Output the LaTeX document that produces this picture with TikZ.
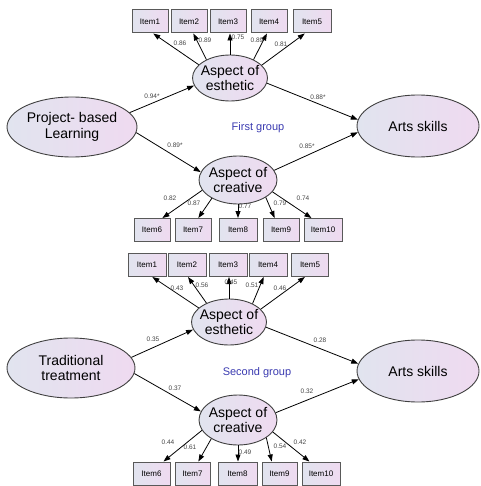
\documentclass[tikz,border=0pt]{standalone}
\usepackage{fontspec}
\setmainfont{Liberation Sans}
\usetikzlibrary{shapes.geometric,arrows.meta}
\definecolor{shadeleft}{HTML}{E1E4EF}
\definecolor{shaderight}{HTML}{EFDAF0}
\definecolor{grouptext}{HTML}{3A3AB0}
\definecolor{coeftext}{HTML}{444444}
\tikzset{
  latent/.style={ellipse, draw=black!75, line width=0.9pt, left color=shadeleft,
    right color=shaderight, inner xsep=-6pt, inner ysep=0pt, align=center,
    font=\fontsize{14}{15.5}\selectfont},
  item/.style={rectangle, draw=black!65, line width=1pt, left color=shadeleft,
    right color=shaderight, minimum width=36pt, minimum height=23pt, inner sep=0pt,
    font=\fontsize{8}{9}\selectfont},
  load/.style={-{Triangle[length=7pt,width=5pt]}, line width=0.8pt},
  coef/.style={font=\fontsize{6.5}{7}\selectfont, text=coeftext, inner sep=0pt},
  group/.style={font=\fontsize{11}{12}\selectfont, text=grouptext}
}
\begin{document}
\begin{tikzpicture}[x=1pt,y=-1pt]
    \useasboundingbox (0,0) rectangle (480,486);
    % First group: latent variables
    \node[latent, minimum width=130pt, minimum height=60pt] (pbl) at (72,127) {Project- based\\Learning};
    \node[latent, minimum width=75pt, minimum height=46pt] (est1) at (230,78) {Aspect of\\esthetic};
    \node[latent, minimum width=78pt, minimum height=48pt] (cre1) at (238,180) {Aspect of\\creative};
    \node[latent, minimum width=122pt, minimum height=62pt] (arts1) at (418,126) {Arts skills};
    \node[group] (g1) at (258,128) {First group};
    % First group: items
    \node[item] (a1) at (150,21.5) {Item1};
    \node[item] (a2) at (189,21.5) {Item2};
    \node[item] (a3) at (228,21.5) {Item3};
    \node[item] (a4) at (269,21.5) {Item4};
    \node[item, minimum width=38pt] (a5) at (312,21.5) {Item5};
    \node[item] (a6) at (152,230) {Item6};
    \node[item] (a7) at (193,230) {Item7};
    \node[item, minimum width=38pt] (a8) at (238,230) {Item8};
    \node[item] (a9) at (281,230) {Item9};
    \node[item, minimum width=38pt] (a10) at (323,230) {Item10};
    % First group: paths
    \draw[load] (pbl.14) -- (est1.192);
    \draw[load] (pbl.355) -- (cre1.168);
    \draw[load] (est1.352) -- (arts1.174);
    \draw[load] (cre1.15) -- (arts1.186);
    \draw[load] (est1.157) -- (a1.-75);
    \draw[load] (est1.142) -- (a2.-70);
    \draw[load] (est1.90) -- (est1.90 |- a3.south);
    \draw[load] (est1.38) -- (a4.-100);
    \draw[load] (est1.22) -- (a5.-121);
    \draw[load] (cre1.196) -- (a6.49);
    \draw[load] (cre1.215) -- (a7.66);
    \draw[load] (cre1.270) -- (cre1.270 |- a8.north);
    \draw[load] (cre1.328) -- (a9.118);
    \draw[load] (cre1.341) -- (a10.134);
    % First group: estimates
    \node[coef] at (180,43) {0.86};
    \node[coef] at (205,40) {0.89};
    \node[coef] at (238,37) {0.75};
    \node[coef] at (257,40) {0.89};
    \node[coef] at (281,44) {0.81};
    \node[coef] at (152,96) {0.94*};
    \node[coef] at (318,97) {0.88*};
    \node[coef] at (175,145) {0.89*};
    \node[coef] at (307,146) {0.85*};
    \node[coef] at (170,198) {0.82};
    \node[coef] at (194,203) {0.87};
    \node[coef] at (245,206) {0.77};
    \node[coef] at (280,203) {0.79};
    \node[coef] at (303,198) {0.74};
    % Second group: latent variables
    \node[latent, minimum width=128pt, minimum height=60pt] (trad) at (71,368) {Traditional\\treatment};
    \node[latent, minimum width=75pt, minimum height=46pt] (est2) at (229,322) {Aspect of\\esthetic};
    \node[latent, minimum width=78pt, minimum height=50pt] (cre2) at (238,420) {Aspect of\\creative};
    \node[latent, minimum width=122pt, minimum height=62pt] (arts2) at (418,371) {Arts skills};
    \node[group] (g2) at (257,373) {Second group};
    % Second group: items
    \node[item, minimum width=38pt] (b1) at (147,265) {Item1};
    \node[item, minimum width=38pt] (b2) at (187,265) {Item2};
    \node[item, minimum width=38pt] (b3) at (228,265) {Item3};
    \node[item, minimum width=38pt] (b4) at (268,265) {Item4};
    \node[item, minimum width=37pt] (b5) at (310,265) {Item5};
    \node[item, minimum width=37pt] (b6) at (151.5,473.5) {Item6};
    \node[item, minimum width=35pt] (b7) at (192.5,473.5) {Item7};
    \node[item, minimum width=39pt] (b8) at (237.5,473.5) {Item8};
    \node[item, minimum width=35pt] (b9) at (279.5,473.5) {Item9};
    \node[item, minimum width=38pt] (b10) at (321,473.5) {Item10};
    % Second group: paths
    \draw[load] (trad.10) -- (est2.192);
    \draw[load] (trad.355) -- (cre2.167);
    \draw[load] (est2.352) -- (arts2.173);
    \draw[load] (cre2.11) -- (arts2.188);
    \draw[load] (est2.155) -- (b1.-66);
    \draw[load] (est2.140) -- (b2.-85);
    \draw[load] (est2.90) -- (est2.90 |- b3.south);
    \draw[load] (est2.38) -- (b4.-110);
    \draw[load] (est2.22) -- (b5.-113);
    \draw[load] (cre2.196) -- (b6.45);
    \draw[load] (cre2.215) -- (b7.64);
    \draw[load] (cre2.270) -- (cre2.270 |- b8.north);
    \draw[load] (cre2.328) -- (b9.123);
    \draw[load] (cre2.341) -- (b10.134);
    % Second group: estimates
    \node[coef] at (177,288) {0.43};
    \node[coef] at (202,285) {0.56};
    \node[coef] at (231,282) {0.45};
    \node[coef] at (252,285) {0.51};
    \node[coef] at (280,288) {0.46};
    \node[coef] at (153,339) {0.35};
    \node[coef] at (320,340) {0.28};
    \node[coef] at (175,388) {0.37};
    \node[coef] at (307,391) {0.32};
    \node[coef] at (168,442) {0.44};
    \node[coef] at (190,447) {0.61};
    \node[coef] at (245,452) {0.49};
    \node[coef] at (280,446) {0.54};
    \node[coef] at (300,442) {0.42};
\end{tikzpicture}
\end{document}
